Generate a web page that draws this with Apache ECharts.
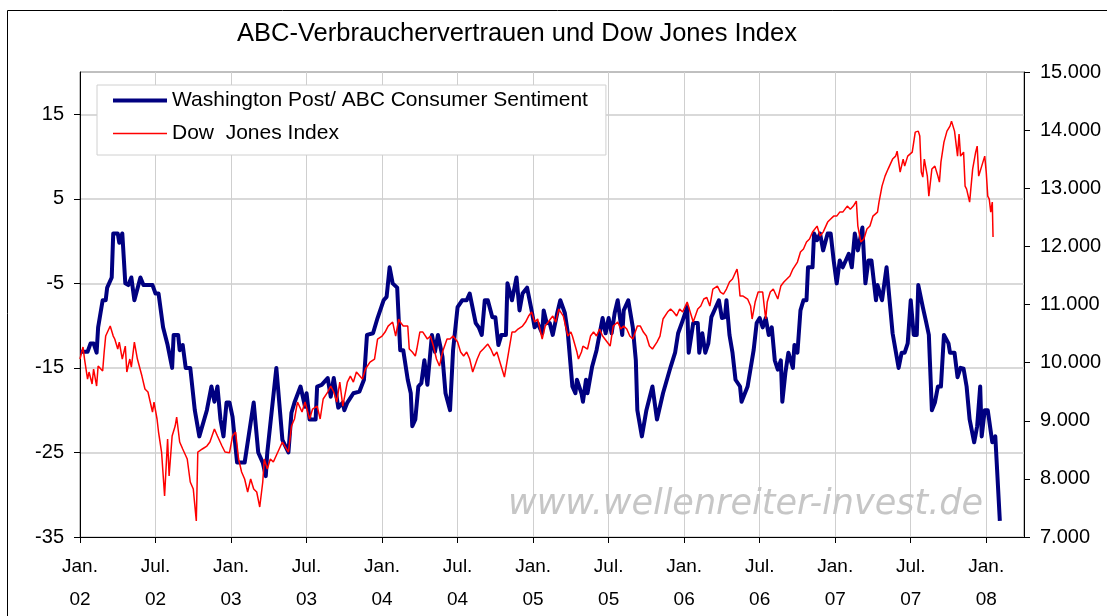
<!DOCTYPE html>
<html>
<head>
<meta charset="utf-8">
<script src="https://cdn.jsdelivr.net/npm/echarts@6/dist/echarts.min.js"></script>
<style>
  html, body { margin: 0; padding: 0; background: #fff; }
  #chart { width: 1107px; height: 616px; }
</style>
</head>
<body>
<div id="chart"></div>
<script>
// x values are decimal years (2002.5 = Jul. 2002)
const xTickValues = [2002, 2002.5, 2003, 2003.5, 2004, 2004.5, 2005, 2005.5, 2006, 2006.5, 2007, 2007.5, 2008]
const leftTickValues = [-35, -25, -15, -5, 5, 15]

// Washington Post / ABC consumer sentiment (left axis)
const sentiment = [
  [2002.00,-13.1],[2002.05,-13.1],[2002.07,-12.1],[2002.09,-12.1],[2002.11,-13.2],[2002.12,-10.2],[2002.15,-7],[2002.17,-7],[2002.18,-5.5],[2002.21,-4.3],[2002.22,0.9],[2002.25,0.9],[2002.26,-0.2],[2002.28,0.9],[2002.30,-5],[2002.32,-5.2],[2002.34,-4.3],[2002.36,-7],[2002.40,-4.3],[2002.42,-5.2],[2002.48,-5.2],[2002.50,-6.2],[2002.52,-6.2],[2002.55,-10.2],[2002.58,-12.3],[2002.61,-15],[2002.62,-11.1],[2002.65,-11.1],[2002.66,-12.9],[2002.68,-12.3],[2002.70,-15],[2002.73,-15],[2002.76,-20],[2002.79,-23.1],[2002.84,-20],[2002.87,-17.2],[2002.89,-19],[2002.91,-17.2],[2002.93,-21.1],[2002.95,-23.1],[2002.97,-19.1],[2002.99,-19.1],
  [2003.01,-20.8],[2003.04,-26.2],[2003.09,-26.2],[2003.15,-19.1],[2003.18,-25],[2003.21,-26.2],[2003.23,-27.8],[2003.24,-25],[2003.30,-15],[2003.34,-23.5],[2003.38,-25],[2003.40,-20.3],[2003.42,-19.1],[2003.46,-17.2],[2003.49,-19.6],[2003.50,-18],[2003.52,-21.1],[2003.56,-21.1],[2003.57,-17.2],[2003.60,-17],[2003.64,-16.2],[2003.66,-18.4],[2003.68,-16.2],[2003.71,-19.7],[2003.74,-19.1],[2003.75,-20],[2003.77,-19.1],[2003.81,-18],[2003.85,-17.8],[2003.88,-16.4],[2003.90,-11.1],[2003.94,-10.9],[2003.97,-9.1],
  [2004.01,-7],[2004.03,-6.6],[2004.05,-3.1],[2004.07,-5],[2004.10,-5.5],[2004.12,-12.9],[2004.14,-12.9],[2004.17,-16.4],[2004.19,-18],[2004.20,-21.9],[2004.22,-21.1],[2004.24,-17.2],[2004.26,-16.8],[2004.28,-14.1],[2004.30,-17],[2004.33,-11.1],[2004.35,-13.1],[2004.37,-11.1],[2004.40,-13.7],[2004.42,-18],[2004.45,-20],[2004.47,-12.9],[2004.50,-7.8],[2004.53,-7],[2004.56,-7],[2004.58,-6.2],[2004.62,-9.7],[2004.64,-10.2],[2004.66,-11.1],[2004.68,-7],[2004.70,-7],[2004.73,-9],[2004.75,-9],[2004.77,-12.3],[2004.79,-11.1],[2004.82,-11.1],[2004.83,-5],[2004.86,-7],[2004.89,-4.3],[2004.91,-8.2],[2004.93,-6.2],[2004.96,-5.5],[2004.99,-8.2],
  [2005.01,-10.2],[2005.03,-9.7],[2005.06,-10.9],[2005.07,-8.2],[2005.09,-9.7],[2005.11,-9.7],[2005.13,-11.1],[2005.16,-8.5],[2005.18,-7],[2005.21,-8.5],[2005.23,-10.9],[2005.26,-17.2],[2005.28,-18],[2005.29,-16.4],[2005.32,-18],[2005.33,-19],[2005.35,-16.4],[2005.36,-18],[2005.39,-14.9],[2005.42,-12.9],[2005.46,-9.1],[2005.48,-10.9],[2005.50,-9.1],[2005.52,-10.9],[2005.54,-8.5],[2005.56,-7],[2005.59,-11.1],[2005.60,-8.2],[2005.63,-7],[2005.66,-10.2],[2005.68,-14.1],[2005.69,-20],[2005.72,-23.1],[2005.75,-20],[2005.79,-17.2],[2005.82,-21.1],[2005.86,-18],[2005.91,-14.9],[2005.94,-13.2],[2005.96,-10.9],[2005.99,-9.4],
  [2006.02,-7.8],[2006.03,-13.2],[2006.06,-9.7],[2006.09,-9.7],[2006.10,-13.2],[2006.12,-10.9],[2006.14,-13.2],[2006.16,-12.1],[2006.18,-9],[2006.21,-7.8],[2006.23,-7],[2006.25,-9.1],[2006.27,-9],[2006.28,-7],[2006.30,-11.1],[2006.32,-13.2],[2006.34,-16.4],[2006.37,-17.2],[2006.38,-19],[2006.42,-17.2],[2006.43,-17.2],[2006.46,-12.9],[2006.48,-9.7],[2006.50,-9.1],[2006.52,-10.2],[2006.54,-9.1],[2006.56,-11.1],[2006.58,-10.2],[2006.60,-14.1],[2006.62,-15.2],[2006.64,-14.1],[2006.65,-19],[2006.67,-15.6],[2006.69,-13.2],[2006.72,-15],[2006.73,-12.3],[2006.75,-13.2],[2006.77,-8.2],[2006.79,-7],[2006.81,-7],[2006.82,-3.1],[2006.85,-3.1],[2006.86,0.9],[2006.88,0.1],[2006.90,0.9],[2006.92,-1.1],[2006.95,0.9],[2006.97,0.9],[2006.99,-2.3],
  [2007.01,-5],[2007.03,-2.3],[2007.05,-3.1],[2007.09,-1.5],[2007.11,-3.1],[2007.13,0.9],[2007.15,-1.1],[2007.18,1.6],[2007.20,-5],[2007.22,-2.3],[2007.24,-2.3],[2007.27,-7],[2007.28,-5.2],[2007.31,-7],[2007.34,-3.1],[2007.36,-7],[2007.38,-10.9],[2007.42,-15],[2007.44,-13.2],[2007.46,-13.2],[2007.48,-12.1],[2007.50,-7],[2007.52,-11.1],[2007.54,-11.1],[2007.55,-5.2],[2007.58,-7.8],[2007.60,-9.4],[2007.62,-11.1],[2007.64,-20],[2007.66,-19.1],[2007.68,-17.2],[2007.70,-17.2],[2007.72,-11.1],[2007.75,-12.1],[2007.76,-13.2],[2007.79,-13.2],[2007.81,-16.1],[2007.83,-15],[2007.85,-15.1],[2007.87,-17.2],[2007.89,-21.1],[2007.92,-23.8],[2007.94,-21.9],[2007.96,-17.2],[2007.97,-23.1],[2007.99,-20],
  [2008.01,-20],[2008.04,-23.8],[2008.06,-23.1],[2008.09,-33.1]
]

// Dow Jones Index (right axis)
const dowJones = [
  [2002.00,10062],[2002.02,10268],[2002.03,10062],[2002.05,9718],[2002.06,9838],[2002.08,9632],[2002.09,9890],[2002.11,9597],[2002.12,9941],[2002.15,9855],[2002.16,10182],[2002.17,10457],[2002.20,10629],[2002.22,10457],[2002.23,10406],[2002.25,10234],[2002.26,10354],[2002.28,10062],[2002.30,10285],[2002.31,9838],[2002.33,10062],[2002.34,9924],[2002.36,10354],[2002.38,10062],[2002.41,9769],[2002.43,9546],[2002.45,9494],[2002.48,9150],[2002.49,9322],[2002.51,9030],[2002.52,8806],[2002.54,8462],[2002.56,7705],[2002.58,8686],[2002.59,8049],[2002.61,8737],[2002.63,8909],[2002.64,9064],[2002.66,8634],[2002.68,8514],[2002.71,8342],[2002.73,7946],[2002.75,7826],[2002.77,7275],[2002.78,8462],[2002.81,8514],[2002.84,8565],[2002.86,8634],[2002.89,8858],[2002.91,8737],[2002.94,8565],[2002.96,8462],[2002.99,8450],
  [2003.01,8737],[2003.03,8806],[2003.05,8342],[2003.07,8118],[2003.09,7998],[2003.11,7774],[2003.13,7998],[2003.15,7826],[2003.17,7774],[2003.19,7516],[2003.21,7946],[2003.22,8342],[2003.24,8170],[2003.26,8342],[2003.28,8290],[2003.31,8462],[2003.34,8634],[2003.38,8462],[2003.40,8909],[2003.42,9030],[2003.44,9322],[2003.47,9150],[2003.49,9322],[2003.52,9030],[2003.54,9202],[2003.57,9253],[2003.59,9030],[2003.61,9374],[2003.64,9494],[2003.66,9597],[2003.68,9494],[2003.70,9322],[2003.72,9666],[2003.74,9253],[2003.77,9666],[2003.79,9769],[2003.81,9666],[2003.83,9838],[2003.87,9718],[2003.89,9890],[2003.92,10010],[2003.95,10062],[2003.97,10406],
  [2004.00,10457],[2004.02,10526],[2004.04,10629],[2004.07,10698],[2004.09,10457],[2004.11,10750],[2004.12,10698],[2004.14,10629],[2004.17,10629],[2004.18,10234],[2004.20,10182],[2004.22,10113],[2004.23,10234],[2004.25,10526],[2004.27,10526],[2004.30,10406],[2004.32,10457],[2004.34,10285],[2004.36,10062],[2004.38,9941],[2004.40,10182],[2004.43,10406],[2004.45,10406],[2004.47,10457],[2004.50,10354],[2004.52,10182],[2004.54,10113],[2004.56,10182],[2004.58,10062],[2004.60,9838],[2004.63,10062],[2004.65,10182],[2004.67,10234],[2004.70,10320],[2004.72,10234],[2004.74,10113],[2004.76,10182],[2004.78,10010],[2004.80,9838],[2004.81,9752],[2004.83,10062],[2004.86,10526],[2004.88,10526],[2004.90,10578],[2004.93,10629],[2004.95,10698],[2004.97,10801],[2004.99,10870],
  [2005.01,10698],[2005.03,10750],[2005.06,10406],[2005.08,10629],[2005.10,10698],[2005.13,10801],[2005.15,10698],[2005.17,10922],[2005.20,10801],[2005.23,10457],[2005.25,10526],[2005.26,10457],[2005.29,10182],[2005.30,10062],[2005.32,10182],[2005.33,10285],[2005.36,10234],[2005.38,10457],[2005.40,10526],[2005.42,10457],[2005.44,10578],[2005.46,10457],[2005.49,10354],[2005.51,10285],[2005.53,10629],[2005.56,10698],[2005.58,10578],[2005.60,10629],[2005.62,10578],[2005.64,10457],[2005.66,10406],[2005.69,10629],[2005.71,10629],[2005.73,10526],[2005.75,10457],[2005.77,10285],[2005.79,10234],[2005.82,10354],[2005.84,10457],[2005.86,10750],[2005.89,10870],[2005.91,10922],[2005.93,10870],[2005.95,10801],[2005.97,10922],[2005.99,10870],
  [2006.02,11042],[2006.04,10870],[2006.06,10698],[2006.09,10922],[2006.11,10973],[2006.13,11094],[2006.15,11120],[2006.17,10973],[2006.19,11266],[2006.22,11317],[2006.24,11214],[2006.26,11180],[2006.28,11266],[2006.30,11386],[2006.32,11438],[2006.35,11610],[2006.36,11438],[2006.37,11145],[2006.39,11145],[2006.42,11094],[2006.44,10973],[2006.45,10750],[2006.47,11042],[2006.49,11214],[2006.52,11214],[2006.53,10973],[2006.54,10750],[2006.55,11042],[2006.57,11214],[2006.59,11266],[2006.62,11094],[2006.64,11317],[2006.66,11386],[2006.68,11438],[2006.70,11489],[2006.72,11610],[2006.75,11730],[2006.77,11902],[2006.79,11954],[2006.81,12074],[2006.83,12126],[2006.85,12246],[2006.88,12349],[2006.90,12177],[2006.92,12246],[2006.95,12418],[2006.97,12470],[2006.99,12521],
  [2007.01,12521],[2007.03,12590],[2007.05,12590],[2007.08,12693],[2007.10,12640],[2007.12,12693],[2007.14,12779],[2007.15,12349],[2007.17,12074],[2007.19,12126],[2007.21,12298],[2007.23,12350],[2007.25,12521],[2007.28,12590],[2007.29,12762],[2007.31,13037],[2007.33,13209],[2007.35,13330],[2007.38,13502],[2007.40,13553],[2007.41,13639],[2007.43,13278],[2007.45,13502],[2007.46,13381],[2007.48,13553],[2007.51,13622],[2007.53,13966],[2007.55,13983],[2007.56,13900],[2007.57,13278],[2007.58,13192],[2007.59,13502],[2007.61,13209],[2007.62,12865],[2007.63,12848],[2007.64,13330],[2007.66,13381],[2007.68,13209],[2007.69,13106],[2007.70,13450],[2007.72,13794],[2007.74,13983],[2007.76,14069],[2007.77,14155],[2007.79,13983],[2007.81,13553],[2007.82,13932],[2007.83,13553],[2007.85,13622],[2007.86,13037],[2007.87,12986],[2007.89,12762],[2007.91,13330],[2007.92,13300],[2007.93,13622],[2007.94,13725],[2007.95,13209],[2007.97,13381],[2007.99,13553],
  [2008.00,13278],[2008.01,12865],[2008.02,12814],[2008.03,12590],[2008.04,12762],[2008.045,12160]
]

const font = "'Liberation Sans', Arial, sans-serif"

const chart = echarts.init(document.getElementById('chart'), null, { renderer: 'canvas' })

const xLabel = (v) => {
  const year = Math.floor(v + 1e-6)
  const half = Math.abs(v - year - 0.5) < 0.01
  const yy = String(year % 100).padStart(2, '0')
  return (half ? 'Jul.' : 'Jan.') + '\n' + yy
}

const option = {
  animation: false,
  backgroundColor: '#fff',
  title: {
    text: 'ABC-Verbrauchervertrauen und Dow Jones Index',
    left: 512,
    textAlign: 'center',
    top: 16,
    textStyle: { fontFamily: font, fontSize: 25.5, fontWeight: 'normal', color: '#000' }
  },
  legend: {
    orient: 'vertical',
    left: 97,
    top: 85,
    padding: [5, 18, 11, 14],
    itemWidth: 54,
    itemHeight: 21,
    itemGap: 12,
    itemTextGap: 7,
    backgroundColor: '#fff',
    borderColor: '#d0d0d0',
    borderWidth: 1,
    itemStyle: { opacity: 0, borderWidth: 0 },
    textStyle: { fontFamily: font, fontSize: 21, color: '#000', lineHeight: 21 },
    data: [
      { name: 'Washington Post/ ABC Consumer Sentiment', lineStyle: { width: 4, color: '#000080' } },
      { name: 'Dow  Jones Index', lineStyle: { width: 1.5, color: '#ff0000' } }
    ]
  },
  grid: {
    left: 80,
    right: 83,
    top: 72,
    bottom: 78,
    show: true,
    borderColor: '#808080',
    borderWidth: 1
  },
  graphic: [
    {
      type: 'rect',
      z: -10,
      silent: true,
      shape: { x: 7.5, y: 10.5, width: 1200, height: 700 },
      style: { fill: null, stroke: '#000', lineWidth: 1 }
    },
    {
      type: 'text',
      z: 1,
      silent: true,
      left: 508,
      top: 487,
      style: {
        text: 'www.wellenreiter-invest.de',
        font: 'italic 35px "DejaVu Sans", Verdana, sans-serif',
        fill: '#c6c6c6'
      }
    }
  ],
  xAxis: {
    type: 'value',
    min: 2002,
    max: 2008.25,
    interval: 0.5,
    axisLine: { onZero: false, lineStyle: { color: '#000', width: 1 } },
    axisTick: { customValues: xTickValues, length: 6, lineStyle: { color: '#000' } },
    axisLabel: {
      customValues: xTickValues,
      formatter: xLabel,
      fontFamily: font,
      fontSize: 19,
      color: '#000',
      lineHeight: 33,
      margin: 13
    },
    splitLine: { show: true, lineStyle: { color: '#cfcfcf', width: 1 } }
  },
  yAxis: [
    {
      type: 'value',
      position: 'left',
      min: -35,
      max: 20,
      interval: 10,
      axisLine: { show: true, onZero: false, lineStyle: { color: '#000', width: 1 } },
      axisTick: { show: true, customValues: leftTickValues, length: 6, lineStyle: { color: '#000' } },
      axisLabel: {
        customValues: leftTickValues,
        fontFamily: font,
        fontSize: 20,
        color: '#000',
        margin: 16
      },
      splitLine: { show: true, lineStyle: { color: '#d9d9d9', width: 2 } }
    },
    {
      type: 'value',
      position: 'right',
      min: 7000,
      max: 15000,
      interval: 1000,
      axisLine: { show: true, onZero: false, lineStyle: { color: '#000', width: 1 } },
      axisTick: { show: true, length: 6, lineStyle: { color: '#000' } },
      axisLabel: {
        formatter: (v) => (v / 1000).toFixed(0) + '.000',
        fontFamily: font,
        fontSize: 20,
        color: '#000',
        margin: 16
      },
      splitLine: { show: false }
    }
  ],
  series: [
    {
      name: 'Washington Post/ ABC Consumer Sentiment',
      type: 'line',
      yAxisIndex: 0,
      symbol: 'none',
      z: 3,
      lineStyle: { color: '#000080', width: 4, join: 'round' },
      itemStyle: { color: '#000080' },
      data: sentiment
    },
    {
      name: 'Dow  Jones Index',
      type: 'line',
      yAxisIndex: 1,
      symbol: 'none',
      z: 4,
      lineStyle: { color: '#ff0000', width: 1.5 },
      itemStyle: { color: '#ff0000' },
      data: dowJones
    }
  ]
}

chart.setOption(option)
</script>
</body>
</html>
